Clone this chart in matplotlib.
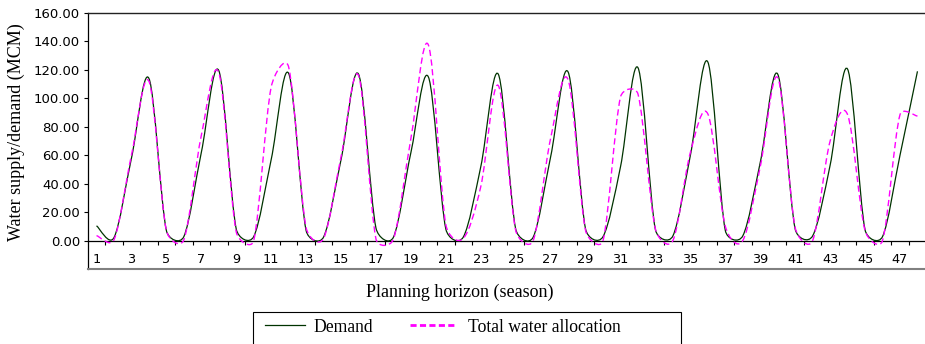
import matplotlib
matplotlib.use('Agg')
import matplotlib.pyplot as plt
from matplotlib.path import Path
from matplotlib.patches import PathPatch, Rectangle
from matplotlib.lines import Line2D
import numpy as np

# ---------------- data ----------------
seasons = list(range(1, 49))
demand = [10.4, 2.1, 58, 114, 7, 2.8, 62, 119.5, 8, 2.8, 57, 117.5,
          7, 2.5, 57, 117, 8.7, 2.4, 62, 115, 8, 2.5, 52, 117,
          8, 2.4, 59, 118.5, 8, 2.8, 52, 121.5, 7.5, 3.3, 60, 125.5,
          7, 3.3, 55, 117, 8, 3.3, 53, 120.5, 7.5, 2.8, 60, 119]
allocation = [3.5, 0.5, 60, 112, 7, 0.5, 74, 118, 6, 0, 108, 122,
              9, 1.5, 59, 116, 1, 1, 72, 137.5, 11, 1.5, 38, 109,
              7, 0, 72, 113, 7, 0, 101, 103, 8, 0, 62, 89,
              10, 0, 52, 114.5, 9, 0, 70, 88.5, 7, 0, 88.5, 87.5]
ytick_values = [0, 20, 40, 60, 80, 100, 120, 140, 160]
ytick_labels = ['0.00', '20.00', '40.00', '60.00', '80.00', '100.00',
                '120.00', '140.00', '160.00']
xtick_values = list(range(1, 48, 2))
xtick_labels = [str(v) for v in xtick_values]
series_names = ['Demand', 'Total water allocation']

serif = 'Liberation Serif'
sans = 'DejaVu Sans'
demand_color = '#003300'
alloc_color = '#ff00ff'

fig = plt.figure(figsize=(9.25, 3.44), dpi=100)
ax = fig.add_axes([87.8 / 925, 75 / 344, 838.4 / 925, 256 / 344])
ax.set_xlim(0.5, 48.5)
ax.set_ylim(-20, 160)


def smooth_path(ax, x, y):
    """Excel-like smoothed line: Bezier segments whose control points are
    computed in screen space (1/6 of neighbour chord, capped at half the
    segment length), returned in data coordinates."""
    fig_w, fig_h = ax.figure.get_size_inches() * ax.figure.dpi
    pos = ax.get_position()
    x0, x1 = ax.get_xlim()
    y0, y1 = ax.get_ylim()
    sx = pos.width * fig_w / (x1 - x0)
    sy = pos.height * fig_h / (y1 - y0)
    pts = np.column_stack([np.asarray(x, float) * sx,
                           np.asarray(y, float) * sy])
    n = len(pts)
    verts = [pts[0]]
    codes = [Path.MOVETO]
    for i in range(n - 1):
        p0 = pts[i - 1] if i > 0 else pts[i]
        p1 = pts[i]
        p2 = pts[i + 1]
        p3 = pts[i + 2] if i + 2 < n else pts[i + 1]
        d12 = np.hypot(*(p2 - p1))
        t1 = (p2 - p0) / 6.0
        t2 = (p3 - p1) / 6.0
        l1 = np.hypot(*t1)
        l2 = np.hypot(*t2)
        if l1 > d12 / 2 and l1 > 0:
            t1 = t1 * (d12 / 2) / l1
        if l2 > d12 / 2 and l2 > 0:
            t2 = t2 * (d12 / 2) / l2
        verts += [p1 + t1, p2 - t2, p2]
        codes += [Path.CURVE4] * 3
    verts = np.array(verts)
    verts[:, 0] /= sx
    verts[:, 1] /= sy
    return Path(verts, codes)


ax.add_patch(PathPatch(smooth_path(ax, seasons, demand), fill=False,
                       edgecolor=demand_color, linewidth=0.9, zorder=3))
ax.add_patch(PathPatch(smooth_path(ax, seasons, allocation), fill=False,
                       edgecolor=alloc_color, linewidth=1.0,
                       linestyle=(0, (4.5, 2.5)), zorder=4))

# spines
ax.spines['right'].set_visible(False)
ax.spines['top'].set_color('#222222')
ax.spines['top'].set_linewidth(1.0)
ax.spines['left'].set_color('black')
ax.spines['left'].set_linewidth(0.9)
ax.spines['bottom'].set_position(('data', 0))
ax.spines['bottom'].set_color('black')
ax.spines['bottom'].set_linewidth(0.9)
ax.axhline(-20, color='#808080', linewidth=1.5, clip_on=False, zorder=5)

# y ticks
ax.set_yticks(ytick_values)
ax.set_yticklabels(ytick_labels, fontfamily=sans, fontsize=9.5)
ax.tick_params(axis='y', direction='out', length=3, width=0.8, pad=2.5,
               colors='black')

# x ticks: marks at category boundaries, labels at category centres
ax.set_xticks([s + 0.5 for s in seasons[:-1]])
ax.set_xticklabels([])
ax.tick_params(axis='x', which='major', direction='out', length=3.2,
               width=0.8, colors='black')
ax.set_xticks(xtick_values, minor=True)
ax.set_xticklabels(xtick_labels, minor=True, fontfamily=sans, fontsize=9.3)
ax.tick_params(axis='x', which='minor', length=0, pad=9.2)

# axis titles
ax.set_ylabel('Water supply/demand (MCM)', fontfamily=serif, fontsize=13,
              va='center')
ax.yaxis.set_label_coords((16 - 87.8) / 838.4, (269 - 132.5) / 256)
ax.set_xlabel('Planning horizon (season)', fontfamily=serif, fontsize=13,
              va='center')
ax.xaxis.set_label_coords((460 - 87.8) / 838.4, (269 - 292) / 256)

# legend (two entries placed like the Excel legend)
legend_prop = {'family': serif, 'size': 12.7}
demand_handle = Line2D([], [], color=demand_color, linewidth=0.9)
alloc_handle = Line2D([], [], color=alloc_color, linewidth=2.0,
                      linestyle=(0, (2.2, 1.2)))
fig.legend([demand_handle], [series_names[0]], loc='center left',
           bbox_to_anchor=(265 / 925, 1 - 327 / 344), frameon=False,
           prop=legend_prop, handlelength=40 / 17.6,
           handletextpad=8 / 17.6, borderpad=0, borderaxespad=0)
fig.legend([alloc_handle], [series_names[1]], loc='center left',
           bbox_to_anchor=(410 / 925, 1 - 327 / 344), frameon=False,
           prop=legend_prop, handlelength=45 / 17.6,
           handletextpad=13 / 17.6, borderpad=0, borderaxespad=0)
fig.patches.append(Rectangle((253 / 925, -0.05), (681 - 253) / 925,
                             (344 - 312) / 344 + 0.05,
                             transform=fig.transFigure, fill=False,
                             edgecolor='black', linewidth=0.8))

fig.savefig('out.png', dpi=100)
